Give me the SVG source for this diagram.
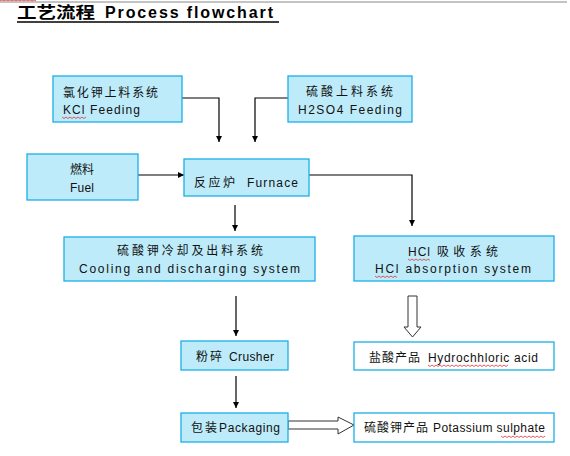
<svg xmlns="http://www.w3.org/2000/svg" width="570" height="456" viewBox="0 0 570 456">
<style>
.box{fill:#BDEBFA;stroke:#1AAFE6;stroke-width:1.3}
.wbox{fill:#FFFFFF;stroke:#1AAFE6;stroke-width:1.3}
.t{font-family:"Liberation Sans","Noto Sans CJK SC",sans-serif;font-size:12px;fill:#111}
.c{font-family:"Noto Sans CJK SC","Liberation Sans",sans-serif;font-size:12px;fill:#111}
.ttl{font-family:"Liberation Sans","Noto Sans CJK SC",sans-serif;font-size:16px;font-weight:bold;fill:#000}
.ttlc{font-family:"Noto Sans CJK SC","Liberation Sans",sans-serif;font-size:16px;font-weight:bold;fill:#000}
.ln{fill:none;stroke:#000;stroke-width:1.2}
.hol{fill:#fff;stroke:#333;stroke-width:1}
.sq{fill:none;stroke:#E53030;stroke-width:0.8}
</style>
<defs>
<marker id="ah" markerWidth="6" markerHeight="6" refX="6" refY="3" orient="auto" markerUnits="userSpaceOnUse">
<path d="M0,0 L6,3 L0,6 Z" fill="#000"/>
</marker>
</defs>
<rect width="570" height="456" fill="#fff"/>
<line x1="0" y1="2" x2="567" y2="2" stroke="#888" stroke-width="1"/>
<path class="sq" d="M0,0.8 l2,-0.8 l2,0.8 l2,-0.8 l2,0.8 l2,-0.8 l2,0.8 l2,-0.8 l2,0.8 l2,-0.8 l2,0.8 l2,-0.8 l2,0.8 l2,-0.8 l2,0.8 l2,-0.8 l2,0.8 l2,-0.8 l2,0.8"/>
<g id="title">
<text class="ttlc" x="17" y="18" textLength="78" lengthAdjust="spacingAndGlyphs">工艺流程</text>
<text class="ttl" x="105" y="18" textLength="168">Process flowchart</text>
<line x1="17" y1="22" x2="279" y2="22" stroke="#000" stroke-width="1.6"/>
</g>
<g id="connectors">
<polyline class="ln" points="182,98 219,98 219,142" marker-end="url(#ah)"/>
<polyline class="ln" points="288,98 255,98 255,142" marker-end="url(#ah)"/>
<line class="ln" x1="138" y1="175" x2="184" y2="175" marker-end="url(#ah)"/>
<polyline class="ln" points="288,175 412,175 412,226" marker-end="url(#ah)"/>
<line class="ln" x1="235" y1="205" x2="235" y2="231" marker-end="url(#ah)"/>
<line class="ln" x1="236" y1="296" x2="236" y2="336" marker-end="url(#ah)"/>
<line class="ln" x1="236" y1="376" x2="236" y2="408" marker-end="url(#ah)"/>
<polygon class="hol" points="408,296 417,296 417,327 421,327 412.5,337 404,327 408,327"/>
<polygon class="hol" points="288,421 338,421 338,417 354,425 338,434 338,429 288,429"/>
</g>
<g id="kcl">
<rect class="box" x="53" y="76" width="129" height="46"/>
<text class="c" x="63" y="97" textLength="95">氯化钾上料系统</text>
<text class="t" x="63" y="114" textLength="77">KCl Feeding</text>
<path class="sq" d="M62,117 l2,1.5 l2,-1.5 l2,1.5 l2,-1.5 l2,1.5 l2,-1.5 l2,1.5 l2,-1.5 l2,1.5 l2,-1.5 l2,1.5 l2,-1.5"/>
</g>
<g id="h2so4">
<rect class="box" x="288" y="76" width="124" height="46"/>
<text class="c" x="306" y="96" textLength="87">硫酸上料系统</text>
<text class="t" x="298" y="114" textLength="104">H2SO4 Feeding</text>
</g>
<g id="fuel">
<rect class="box" x="27" y="154" width="111" height="46"/>
<text class="c" x="70" y="174" textLength="24">燃料</text>
<text class="t" x="70" y="192" textLength="24">Fuel</text>
</g>
<g id="furnace">
<rect class="box" x="184" y="159" width="125" height="37"/>
<text class="c" x="194" y="187" textLength="41">反应炉</text>
<text class="t" x="247" y="187" textLength="51">Furnace</text>
</g>
<g id="cooling">
<rect class="box" x="64" y="237" width="251" height="44"/>
<text class="c" x="117" y="255" textLength="146">硫酸钾冷却及出料系统</text>
<text class="t" x="79" y="273" textLength="221">Cooling and discharging system</text>
</g>
<g id="hcl">
<rect class="box" x="354" y="236" width="200" height="45"/>
<text class="t" x="408" y="256" textLength="22">HCl</text>
<text class="c" x="437" y="256" textLength="61">吸收系统</text>
<text class="t" x="375" y="273" textLength="156">HCl absorption system</text>
<path class="sq" d="M408,259 l2,1.5 l2,-1.5 l2,1.5 l2,-1.5 l2,1.5 l2,-1.5 l2,1.5 l2,-1.5 l2,1.5 l2,-1.5 l2,1.5"/>
<path class="sq" d="M375,276 l2,1.5 l2,-1.5 l2,1.5 l2,-1.5 l2,1.5 l2,-1.5 l2,1.5 l2,-1.5 l2,1.5 l2,-1.5 l2,1.5"/>
</g>
<g id="acid">
<rect class="wbox" x="354" y="342" width="200" height="28"/>
<text class="c" x="369" y="362" textLength="51">盐酸产品</text>
<text class="t" x="428" y="362" textLength="110">Hydrochhloric acid</text>
<path class="sq" d="M428,365 l2,1.5 l2,-1.5 l2,1.5 l2,-1.5 l2,1.5 l2,-1.5 l2,1.5 l2,-1.5 l2,1.5 l2,-1.5 l2,1.5 l2,-1.5 l2,1.5 l2,-1.5 l2,1.5 l2,-1.5 l2,1.5 l2,-1.5 l2,1.5 l2,-1.5 l2,1.5 l2,-1.5 l2,1.5 l2,-1.5 l2,1.5 l2,-1.5 l2,1.5 l2,-1.5 l2,1.5 l2,-1.5 l2,1.5 l2,-1.5 l2,1.5 l2,-1.5 l2,1.5 l2,-1.5 l2,1.5 l2,-1.5 l2,1.5 l2,-1.5"/>
</g>
<g id="crusher">
<rect class="box" x="181" y="341" width="107" height="29"/>
<text class="c" x="196" y="361" textLength="26">粉碎</text>
<text class="t" x="229" y="361" textLength="45">Crusher</text>
</g>
<g id="packaging">
<rect class="box" x="181" y="413" width="107" height="29"/>
<text class="c" x="191" y="432" textLength="26">包装</text>
<text class="t" x="219" y="432" textLength="61">Packaging</text>
</g>
<g id="potassium">
<rect class="wbox" x="354" y="413" width="200" height="29"/>
<text class="c" x="364" y="432" textLength="64">硫酸钾产品</text>
<text class="t" x="433" y="432" textLength="112">Potassium sulphate</text>
<path class="sq" d="M501,436 l2,1.5 l2,-1.5 l2,1.5 l2,-1.5 l2,1.5 l2,-1.5 l2,1.5 l2,-1.5 l2,1.5 l2,-1.5 l2,1.5 l2,-1.5 l2,1.5 l2,-1.5 l2,1.5 l2,-1.5 l2,1.5 l2,-1.5 l2,1.5 l2,-1.5 l2,1.5 l2,-1.5"/>
</g>
</svg>
